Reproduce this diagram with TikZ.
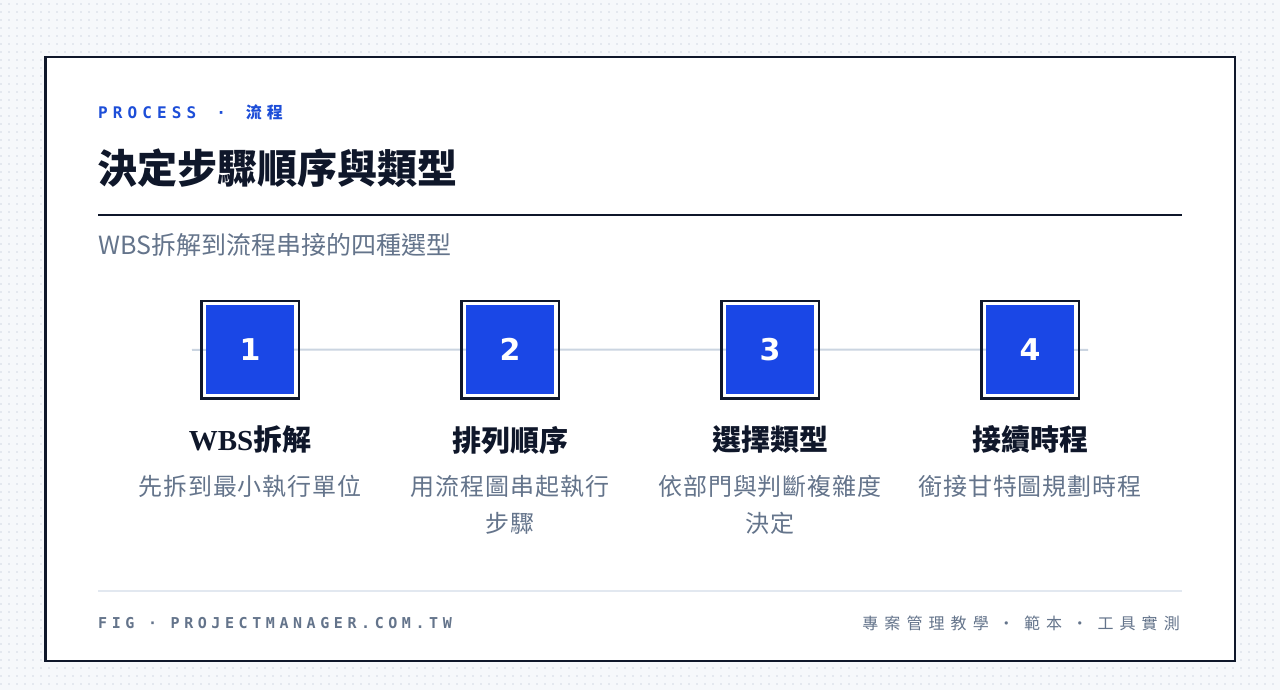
\documentclass[tikz,border=0pt]{standalone}
\usepackage{fontspec}
\setmainfont{Liberation Sans}
\newfontfamily\cjk{Noto Sans CJK TC}
\newfontfamily\cjkd{Noto Sans CJK TC}[LetterSpace=4]
\newfontfamily\cjkls{Noto Sans CJK TC}[LetterSpace=30]
\newfontfamily\cjkfoot{Noto Sans CJK TC}[LetterSpace=38]
\newfontfamily\monols{DejaVu Sans Mono}[LetterSpace=32]
\newfontfamily\monofoot{DejaVu Sans Mono}[LetterSpace=30.5]
\newfontfamily\numf{DejaVu Sans}
\newfontfamily\serifb{Liberation Serif}
\definecolor{bg}{HTML}{F6F8FB}
\definecolor{dotc}{HTML}{E4E8EF}
\definecolor{ink}{HTML}{0F172A}
\definecolor{accent}{HTML}{1D4ED8}
\definecolor{boxblue}{HTML}{1A47E6}
\definecolor{muted}{HTML}{64748B}
\definecolor{rulec}{HTML}{E2E8F0}
\definecolor{connc}{HTML}{CBD5E1}
\begin{document}
\begin{tikzpicture}[x=1pt,y=-1pt,
  outerbox/.style={draw=ink, line width=2.5pt, minimum size=97.5pt, inner sep=0pt},
  bluesq/.style={fill=boxblue, minimum width=88pt, minimum height=89pt, inner sep=0pt, text=white, font=\numf\bfseries\fontsize{30}{30}\selectfont},
  steptitle/.style={text=ink, inner sep=0pt, font=\cjk\bfseries\fontsize{29}{34}\selectfont},
  stepdesc/.style={text=muted, inner sep=0pt, align=center, anchor=north, font=\cjkd\fontsize{24}{37}\selectfont},
  conn/.style={draw=connc, line width=2pt},
  txt/.style={inner sep=0pt}]
\path[use as bounding box] (0,0) rectangle (1280,690);
\fill[bg] (0,0) rectangle (1280,690);
\foreach \yy in {4,12,...,684}
  \draw[dotc, line width=2pt, dash pattern=on 2pt off 6pt] (0,\yy) -- (1280,\yy);
\filldraw[fill=white, draw=ink, line width=2.3pt] (45.5,57.3) rectangle (1235,661);
% header
\node[txt, anchor=west, text=accent] (kicker) at (98,112)
  {\fontsize{16}{16}\selectfont\monols\bfseries PROCESS\hspace{20pt}·\hspace{20pt}{\cjkls\bfseries 流程}};
\node[txt, anchor=west, text=ink] (title) at (97,168)
  {\cjk\bfseries\fontsize{40}{44}\selectfont 決定步驟順序與類型};
\draw[ink, line width=2pt] (98,215) -- (1182,215);
\node[txt, anchor=west, text=muted] (subtitle) at (98,245)
  {\cjk\fontsize{25}{30}\selectfont WBS拆解到流程串接的四種選型};
% connectors
\coordinate (L) at (192,350);
\coordinate (R) at (1088,350);
\coordinate (c1) at (250,349.5);
\coordinate (c2) at (510,349.5);
\coordinate (c3) at (770,349.5);
\coordinate (c4) at (1030,349.5);
\draw[conn] (L) -- (c1) -- (c2) -- (c3) -- (c4) -- (R);
% steps
\foreach \i in {1,2,3,4}{
  \node[outerbox] (o\i) at (c\i) {};
  \node[bluesq] (b\i) at (c\i) {\i};
}
\node[steptitle] (t1) at (250,440) {{\serifb\bfseries WBS}拆解};
\node[steptitle] (t2) at (510,440) {排列順序};
\node[steptitle] (t3) at (770,440) {選擇類型};
\node[steptitle] (t4) at (1030,440) {接續時程};
\node[stepdesc] (d1) at (250,475) {先拆到最小執行單位};
\node[stepdesc] (d2) at (510,475) {用流程圖串起執行\\步驟};
\node[stepdesc] (d3) at (770,475) {依部門與判斷複雜度\\決定};
\node[stepdesc] (d4) at (1030,475) {銜接甘特圖規劃時程};
% footer
\draw[rulec, line width=2pt] (98,591) -- (1182,591);
\node[txt, anchor=west, text=muted] (figl) at (98,623.5)
  {\fontsize{15}{15}\selectfont\monofoot\bfseries FIG · PROJECTMANAGER.COM.TW};
\node[txt, anchor=east, text=muted] (figr) at (1180,623.5)
  {\cjkfoot\fontsize{16}{16}\selectfont 專案管理教學 · 範本 · 工具實測};
\end{tikzpicture}
\end{document}
